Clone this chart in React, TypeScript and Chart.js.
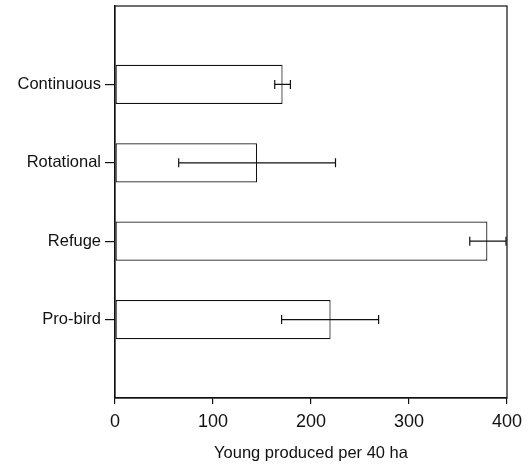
import React, { useEffect, useRef } from "react";
import { Chart, registerables } from "chart.js";

Chart.register(...registerables);

const categories = ["", "Continuous", "Rotational", "Refuge", "Pro-bird", ""];
const values = [null, 171, 145, 380, 220, null];
const errLow = [null, 163, 65, 362, 170, null];
const errHigh = [null, 179, 225, 399, 269, null];
const xTicks = [0, 100, 200, 300, 400];
const xTitle = "Young produced per 40 ha";

const FONT = "'Liberation Sans', Arial, Helvetica, sans-serif";

const framePlugin = {
  id: "frame",
  afterDatasetsDraw(chart: any) {
    const { ctx, chartArea } = chart;
    ctx.save();
    ctx.strokeStyle = "#111";
    ctx.lineWidth = 1.2;
    ctx.strokeRect(chartArea.left, chartArea.top, chartArea.right - chartArea.left, chartArea.bottom - chartArea.top);
    ctx.restore();
  },
};

const errorBarPlugin = {
  id: "errorBars",
  afterDatasetsDraw(chart: any) {
    const { ctx } = chart;
    const xs = chart.scales.x;
    const ys = chart.scales.y;
    ctx.save();
    ctx.strokeStyle = "#111";
    ctx.lineWidth = 1.2;
    for (let i = 0; i < categories.length; i++) {
      const lo = errLow[i];
      const hi = errHigh[i];
      if (lo == null || hi == null) continue;
      const y = ys.getPixelForValue(i);
      const x1 = xs.getPixelForValue(lo);
      const x2 = xs.getPixelForValue(hi);
      ctx.beginPath();
      ctx.moveTo(x1, y);
      ctx.lineTo(x2, y);
      ctx.moveTo(x1, y - 4.5);
      ctx.lineTo(x1, y + 4.5);
      ctx.moveTo(x2, y - 4.5);
      ctx.lineTo(x2, y + 4.5);
      ctx.stroke();
    }
    ctx.restore();
  },
};

export default function App() {
  const ref = useRef<HTMLCanvasElement | null>(null);
  useEffect(() => {
    if (!ref.current) return;
    const chart = new Chart(ref.current, {
      type: "bar",
      data: {
        labels: categories,
        datasets: [
          {
            data: values as any,
            backgroundColor: "#ffffff",
            borderColor: "#111",
            borderWidth: 1.2,
            borderSkipped: false,
            categoryPercentage: 1,
            barPercentage: 0.5,
          },
        ],
      },
      options: {
        indexAxis: "y",
        animation: false,
        responsive: false,
        maintainAspectRatio: false,
        layout: { padding: { left: 0, right: 24, top: 6, bottom: 0 } },
        plugins: { legend: { display: false }, tooltip: { enabled: false } },
        scales: {
          x: {
            type: "linear",
            min: 0,
            max: 400,
            afterBuildTicks: (scale: any) => {
              scale.ticks = xTicks.map((v) => ({ value: v }));
            },
            afterFit: (scale: any) => {
              scale.height = 67;
            },
            grid: { display: true, drawOnChartArea: false, drawTicks: true, tickLength: 6, color: "#111", lineWidth: 1.2 },
            border: { display: true, color: "#111", width: 1.2 },
            ticks: { color: "#111", font: { family: FONT, size: 18 }, padding: 7, maxRotation: 0 },
            title: { display: true, text: xTitle, color: "#111", font: { family: FONT, size: 16.5 }, padding: { top: 2, bottom: 2 } },
          },
          y: {
            type: "category",
            offset: false,
            afterFit: (scale: any) => {
              scale.width = 115;
              scale.paddingTop = 0;
              scale.paddingBottom = 0;
            },
            grid: {
              display: true,
              offset: false,
              drawOnChartArea: false,
              drawTicks: true,
              tickLength: 10,
              color: (c: any) => (c.index > 0 && c.index < categories.length - 1 ? "#111" : "rgba(0,0,0,0)"),
              lineWidth: 1.2,
            },
            border: { display: true, color: "#111", width: 1.2 },
            ticks: { color: "#111", font: { family: FONT, size: 16.5 }, padding: 4, autoSkip: false },
          },
        },
      },
      plugins: [framePlugin, errorBarPlugin],
    });
    return () => chart.destroy();
  }, []);
  return (
    <div style={{ position: "absolute", left: 0, top: 0, width: 531, height: 465, background: "#fff" }}>
      <canvas ref={ref} width={531} height={465} style={{ width: 531, height: 465 }} />
    </div>
  );
}
